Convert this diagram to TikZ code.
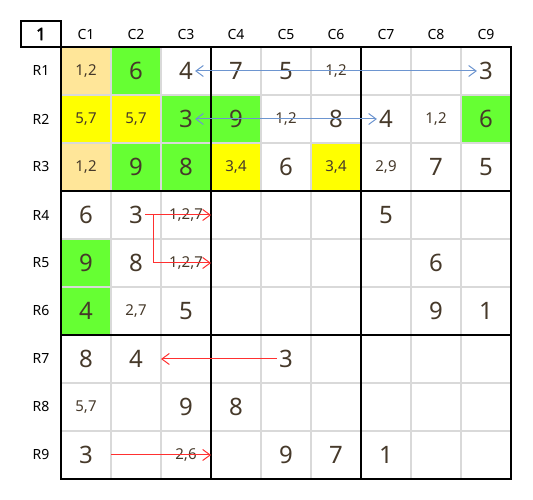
\documentclass[tikz,border=0pt]{standalone}
\usepackage{fontspec}
\setmainfont{Noto Sans}
\newfontfamily\cornerfont{Noto Sans}[FakeBold=2.5]
\usepackage{tikz}
\usetikzlibrary{arrows.meta}
\usetikzlibrary{positioning}

\definecolor{candorange}{HTML}{FFE699}
\definecolor{solvedgreen}{HTML}{66FF33}
\definecolor{pairyellow}{HTML}{FFFF00}
\definecolor{gridgray}{HTML}{D9D9D9}
\definecolor{digitbrown}{HTML}{46392A}
\definecolor{linkblue}{HTML}{6D95D0}
\definecolor{linkred}{HTML}{FF3030}

\tikzset{
  given/.style={text=digitbrown, inner sep=2pt, font=\fontsize{24}{24}\selectfont},
  cand/.style={text=digitbrown, inner sep=2pt, font=\fontsize{15}{15}\selectfont},
  hdr/.style={text=black, font=\fontsize{14}{14}\selectfont},
  thinrule/.style={draw=gridgray, line width=1.8pt},
  thickrule/.style={draw=black, line width=2.2pt, line cap=rect},
  bluelink/.style={draw=linkblue, line width=1pt},
  redlink/.style={draw=linkred, line width=1pt},
  >={Straight Barb[length=7.5pt,width=11pt]}
}

\begin{document}
\begin{tikzpicture}[x=50pt, y=-48pt]
    \useasboundingbox (-1.22,-0.979) rectangle (9.44,9.4375);
    % cell colours
    \foreach \c/\r in {1/1,1/3}
      \fill[candorange] (\c-1,\r-1) rectangle (\c,\r);
    \foreach \c/\r in {2/1,3/2,4/2,9/2,2/3,3/3,1/5,1/6}
      \fill[solvedgreen] (\c-1,\r-1) rectangle (\c,\r);
    \foreach \c/\r in {1/2,2/2,4/3,6/3}
      \fill[pairyellow] (\c-1,\r-1) rectangle (\c,\r);
    % grid
    \foreach \i in {1,...,8} {
      \draw[thinrule] (\i,0) -- (\i,9);
      \draw[thinrule] (0,\i) -- (9,\i);
    }
    \foreach \i in {3,6} {
      \draw[thickrule] (\i,0) -- (\i,9);
      \draw[thickrule] (0,\i) -- (9,\i);
    }
    \draw[thickrule] (0,0) rectangle (9,9);
    \draw[thickrule] (-0.8,-0.5417) rectangle (0,0);
    \node[font=\cornerfont\fontsize{17}{17}\selectfont] (corner) at (-0.4,-0.27) {1};
    % headers
    \foreach \c in {1,...,9}
      \node[hdr] (col\c) at (\c-0.5,-0.25) {C\c};
    \foreach \r in {1,...,9}
      \node[hdr] (row\r) at (-0.4,\r-0.5) {R\r};
    % row 1
    \node[cand] (r1c1) at (0.5,0.5) {1,2};
    \node[given] (r1c2) at (1.5,0.5) {6};
    \node[given] (r1c3) at (2.5,0.5) {4};
    \node[given] (r1c4) at (3.5,0.5) {7};
    \node[given] (r1c5) at (4.5,0.5) {5};
    \node[cand] (r1c6) at (5.5,0.5) {1,2};
    \node[given] (r1c9) at (8.5,0.5) {3};
    % row 2
    \node[cand] (r2c1) at (0.5,1.5) {5,7};
    \node[cand] (r2c2) at (1.5,1.5) {5,7};
    \node[given] (r2c3) at (2.5,1.5) {3};
    \node[given] (r2c4) at (3.5,1.5) {9};
    \node[cand] (r2c5) at (4.5,1.5) {1,2};
    \node[given] (r2c6) at (5.5,1.5) {8};
    \node[given] (r2c7) at (6.5,1.5) {4};
    \node[cand] (r2c8) at (7.5,1.5) {1,2};
    \node[given] (r2c9) at (8.5,1.5) {6};
    % row 3
    \node[cand] (r3c1) at (0.5,2.5) {1,2};
    \node[given] (r3c2) at (1.5,2.5) {9};
    \node[given] (r3c3) at (2.5,2.5) {8};
    \node[cand] (r3c4) at (3.5,2.5) {3,4};
    \node[given] (r3c5) at (4.5,2.5) {6};
    \node[cand] (r3c6) at (5.5,2.5) {3,4};
    \node[cand] (r3c7) at (6.5,2.5) {2,9};
    \node[given] (r3c8) at (7.5,2.5) {7};
    \node[given] (r3c9) at (8.5,2.5) {5};
    % row 4
    \node[given] (r4c1) at (0.5,3.5) {6};
    \node[given] (r4c2) at (1.5,3.5) {3};
    \node[cand] (r4c3) at (2.5,3.5) {1,2,7};
    \node[given] (r4c7) at (6.5,3.5) {5};
    % row 5
    \node[given] (r5c1) at (0.5,4.5) {9};
    \node[given] (r5c2) at (1.5,4.5) {8};
    \node[cand] (r5c3) at (2.5,4.5) {1,2,7};
    \node[given] (r5c8) at (7.5,4.5) {6};
    % row 6
    \node[given] (r6c1) at (0.5,5.5) {4};
    \node[cand] (r6c2) at (1.5,5.5) {2,7};
    \node[given] (r6c3) at (2.5,5.5) {5};
    \node[given] (r6c8) at (7.5,5.5) {9};
    \node[given] (r6c9) at (8.5,5.5) {1};
    % row 7
    \node[given] (r7c1) at (0.5,6.5) {8};
    \node[given] (r7c2) at (1.5,6.5) {4};
    \node[given] (r7c5) at (4.5,6.5) {3};
    % row 8
    \node[cand] (r8c1) at (0.5,7.5) {5,7};
    \node[given] (r8c3) at (2.5,7.5) {9};
    \node[given] (r8c4) at (3.5,7.5) {8};
    % row 9
    \node[given] (r9c1) at (0.5,8.5) {3};
    \node[cand] (r9c3) at (2.5,8.5) {2,6};
    \node[given] (r9c5) at (4.5,8.5) {9};
    \node[given] (r9c6) at (5.5,8.5) {7};
    \node[given] (r9c7) at (6.5,8.5) {1};
    % links
    \coordinate (r4tip) at (3,3.5);
    \coordinate (r4fork) at (1.84,3.5);
    \coordinate (r5tip) at (3,4.5);
    \coordinate (r7tip) at (2,6.5);
    \coordinate (r9tail) at (1,8.5);
    \coordinate (r9tip) at (3,8.5);
    \draw [bluelink, <->] (r1c3) -- (r1c9);
    \draw [bluelink, <->] (r2c3) -- (r2c7);
    \draw [redlink, ->] (r4c2) -- (r4tip);
    \draw [redlink, ->] (r4fork) |- (r5tip);
    \draw [redlink, ->] (r7c5) -- (r7tip);
    \draw [redlink, ->] (r9tail) -- (r9tip);
  \end{tikzpicture}
\end{document}
